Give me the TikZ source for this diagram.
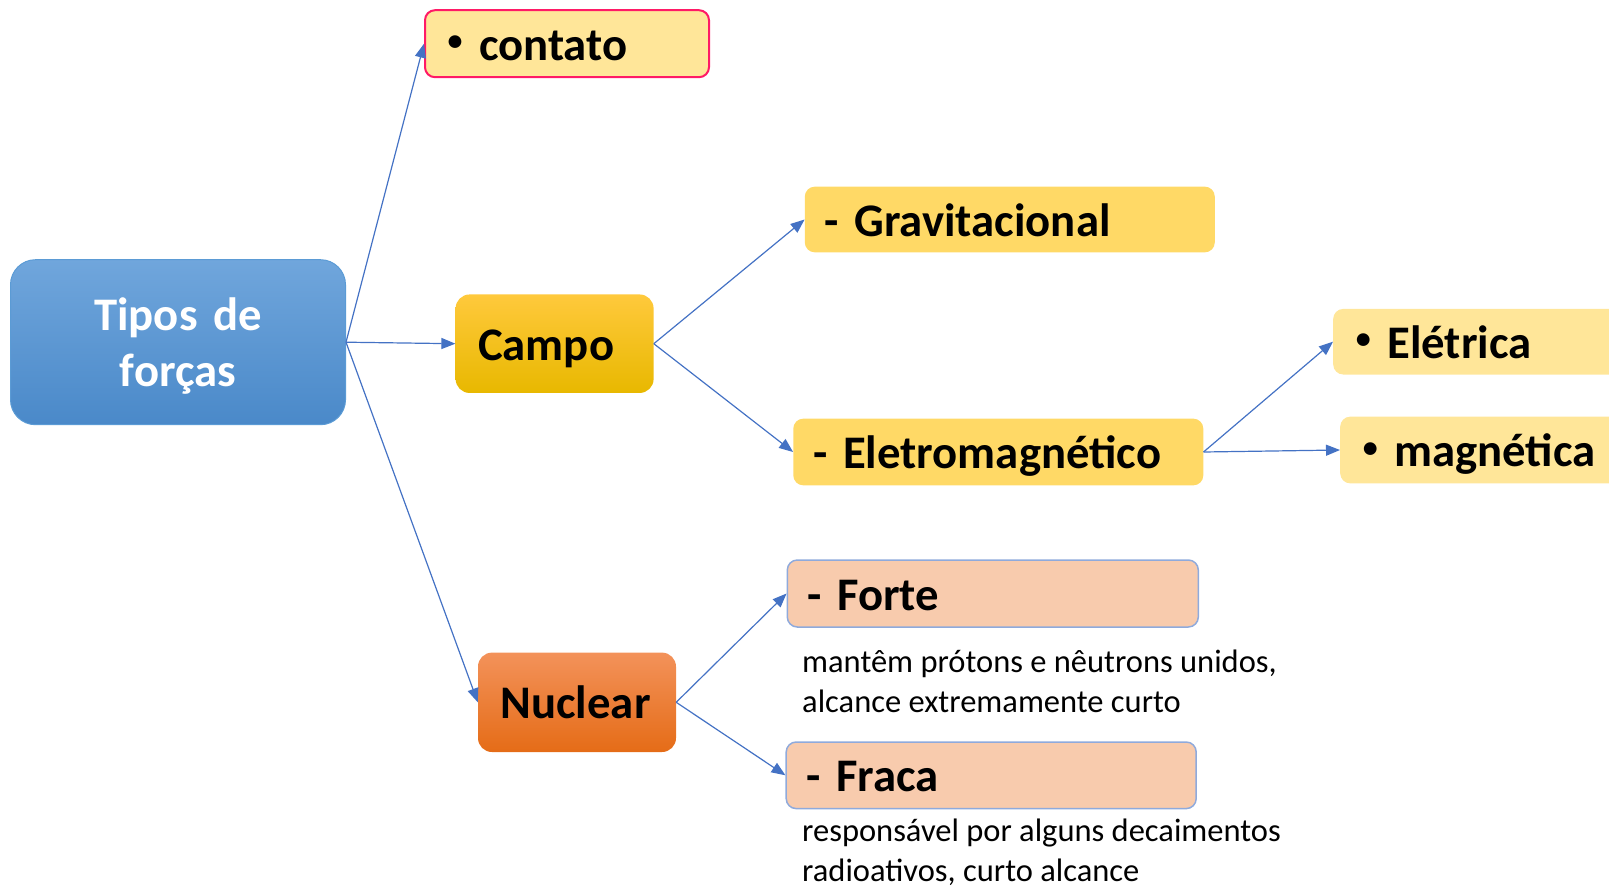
\documentclass[tikz,border=0pt]{standalone}
\usepackage{fontspec}
\setmainfont{Carlito}
\usetikzlibrary{arrows.meta}
\definecolor{arrowblue}{HTML}{4472C4}
\definecolor{ylight}{HTML}{FFE699}
\definecolor{ymid}{HTML}{FFD966}
\definecolor{pinkline}{HTML}{FF1A66}
\definecolor{peach}{HTML}{F8CBAD}
\definecolor{peachline}{HTML}{8FAADC}
\definecolor{tiptop}{HTML}{70A6DC}
\definecolor{tipbot}{HTML}{4A89C9}
\definecolor{tipline}{HTML}{5B9BD5}
\definecolor{camtop}{HTML}{FFC93C}
\definecolor{cambot}{HTML}{E8B800}
\definecolor{nuctop}{HTML}{F3925A}
\definecolor{nucbot}{HTML}{E56C17}
\newcommand{\mybul}{\makebox[31.5pt][l]{\raisebox{9.5pt}{\fontsize{30}{30}\selectfont\textbullet}}}
\tikzset{
  lbl/.style={font=\fontsize{46.7}{52}\selectfont\bfseries, align=left, inner ysep=0pt, text height=35pt, text depth=2pt},
  ybox/.style={lbl, rounded corners=10pt},
  conn/.style={draw=arrowblue, line width=1.2pt, -{Triangle[length=14pt,width=11pt]}},
  desc/.style={font=\fontsize{32.5}{40}\selectfont, align=left, inner sep=0pt, text=black},
}
\begin{document}
\begin{tikzpicture}[x=1pt,y=-1pt]
\useasboundingbox (0,0) rectangle (1609,886);
\clip (0,0) rectangle (1609,886);

\node[rounded corners=25pt, draw=tipline, line width=1pt, top color=tiptop, bottom color=tipbot,
  text=white, align=center, text width=335pt, inner sep=0pt, minimum height=165pt,
  font=\fontsize{46.7}{55.5}\selectfont\bfseries] (tipos) at (178,342.2) {\rule{0pt}{40pt}Tipos de\\forças};

\node[ybox, fill=ylight, draw=pinkline, line width=2pt, text width=284pt, inner xsep=0pt, minimum height=67pt] (contato) at (567,43.7) {\hspace*{22.6pt}\mybul contato};

\node[lbl, rounded corners=14pt, top color=camtop, bottom color=cambot, text width=176pt, inner xsep=11pt, minimum height=98.5pt] (campo) at (554.6,343.7) {\hspace*{11.6pt}Campo};

\node[lbl, rounded corners=14pt, top color=nuctop, bottom color=nucbot, text width=176pt, inner xsep=11pt, minimum height=99.4pt] (nuclear) at (577,702.3) {\hspace*{11.6pt}Nuclear};

\node[ybox, fill=ymid, text width=370pt, inner xsep=20pt, minimum height=65.7pt] (grav) at (1009.8,219.5) {- Gravitacional};

\node[ybox, fill=ymid, text width=370pt, inner xsep=20pt, minimum height=66.7pt] (eletro) at (998.3,452) {- Eletromagnético};

\node[ybox, fill=ylight, anchor=west, text width=400pt, inner xsep=0pt, minimum height=65.6pt] (eletrica) at (1333,341.7) {\hspace*{22.6pt}\mybul Elétrica};

\node[ybox, fill=ylight, anchor=west, text width=400pt, inner xsep=0pt, minimum height=66.7pt] (magnetica) at (1340,450) {\hspace*{22.6pt}\mybul magnética};

\node[ybox, fill=peach, draw=peachline, line width=1.5pt, text width=371pt, inner xsep=20pt, minimum height=67pt] (forte) at (992.8,593.5) {- Forte};

\node[ybox, fill=peach, draw=peachline, line width=1.5pt, text width=370pt, inner xsep=20pt, minimum height=66.6pt] (fraca) at (991.2,775.3) {- Fraca};

\node[desc, anchor=west] (fortedesc) at (802,681) {mantêm prótons e nêutrons unidos,\\alcance extremamente curto};

\node[desc, anchor=west] (fracadesc) at (802,852.5) {responsável por alguns decaimentos\\radioativos, curto alcance};

\draw[conn] (tipos.east) -- (contato.west);
\draw[conn] (tipos.east) -- (campo.west);
\draw[conn] (tipos.east) -- (nuclear.west);
\draw[conn] (campo.east) -- (grav.west);
\draw[conn] (campo.east) -- (eletro.west);
\draw[conn] (eletro.east) -- (eletrica.west);
\draw[conn] (eletro.east) -- (magnetica.west);
\draw[conn] (nuclear.east) -- (forte.west);
\draw[conn] (nuclear.east) -- (fraca.west);
\end{tikzpicture}
\end{document}
